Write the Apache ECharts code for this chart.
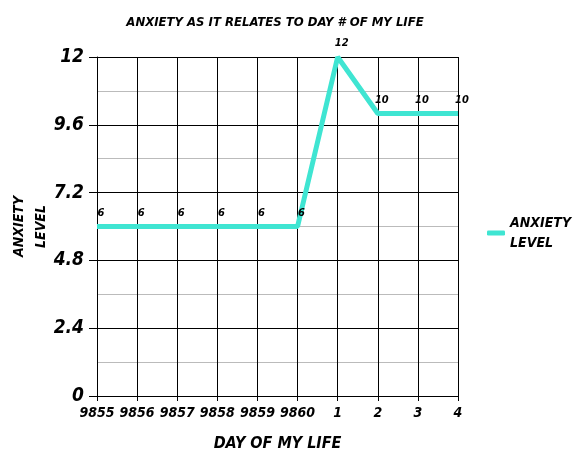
<!DOCTYPE html>
<html>
<head>
<meta charset="utf-8">
<script src="https://cdn.jsdelivr.net/npm/echarts@6/dist/echarts.min.js"></script>
<style>
  html, body { margin: 0; padding: 0; background: #fff; }
  #chart { width: 582px; height: 473px; }
</style>
</head>
<body>
<div id="chart"></div>
<script>
// 数据
const days = ['9855', '9856', '9857', '9858', '9859', '9860', '1', '2', '3', '4']
const anxietyLevel = [6, 6, 6, 6, 6, 6, 12, 10, 10, 10]
const seriesName = 'ANXIETY\nLEVEL'

const comicFont = '"DejaVu Sans Condensed", "DejaVu Sans", sans-serif'
const teal = '#3fe5d2'

const chart = echarts.init(document.getElementById('chart'))

chart.setOption({
  animation: false,
  title: {
    text: 'ANXIETY AS IT RELATES TO DAY # OF MY LIFE',
    left: 270,
    top: 11,
    textAlign: 'center',
    textStyle: {
      fontFamily: comicFont,
      fontSize: 13,
      fontWeight: 'bold',
      fontStyle: 'italic',
      color: '#000'
    }
  },
  legend: {
    orient: 'vertical',
    left: 482,
    top: 208,
    icon: 'roundRect',
    itemWidth: 18,
    itemHeight: 5,
    data: [seriesName],
    textStyle: {
      fontFamily: comicFont,
      fontSize: 14,
      fontWeight: 'bold',
      fontStyle: 'italic',
      color: '#000',
      lineHeight: 20
    }
  },
  grid: {
    left: 97,
    right: 124,
    top: 57,
    bottom: 77,
    outerBoundsMode: 'none'
  },
  xAxis: {
    type: 'category',
    data: days,
    boundaryGap: false,
    name: 'DAY OF MY LIFE',
    nameLocation: 'middle',
    nameGap: 40,
    nameMoveOverlap: false,
    nameTextStyle: {
      fontFamily: comicFont,
      fontSize: 16,
      fontWeight: 'bold',
      fontStyle: 'italic',
      color: '#000'
    },
    axisLine: { lineStyle: { color: '#000', width: 1 } },
    axisTick: { show: true, alignWithLabel: true, length: 5, lineStyle: { color: '#000' } },
    axisLabel: {
      fontFamily: comicFont,
      fontSize: 14,
      fontWeight: 'bold',
      fontStyle: 'italic',
      color: '#000',
      margin: 10,
      interval: 0
    },
    splitLine: { show: true, lineStyle: { color: '#000', width: 1 } }
  },
  yAxis: {
    type: 'value',
    min: 0,
    max: 12,
    interval: 2.4,
    name: 'ANXIETY\nLEVEL',
    nameLocation: 'middle',
    nameGap: 45,
    nameMoveOverlap: false,
    nameTextStyle: {
      fontFamily: comicFont,
      fontSize: 14,
      fontWeight: 'bold',
      fontStyle: 'italic',
      color: '#000',
      lineHeight: 22
    },
    axisLine: { show: true, lineStyle: { color: '#000', width: 1 } },
    axisTick: { show: true, length: 8, lineStyle: { color: '#000' } },
    axisLabel: {
      fontFamily: comicFont,
      fontSize: 19,
      fontWeight: 'bold',
      fontStyle: 'italic',
      color: '#000',
      margin: 13
    },
    splitLine: { show: true, lineStyle: { color: '#000', width: 1 } },
    minorTick: { show: false, splitNumber: 2 },
    minorSplitLine: { show: true, lineStyle: { color: '#bbbbbb', width: 1 } }
  },
  series: [
    {
      name: seriesName,
      type: 'line',
      data: anxietyLevel,
      symbol: 'circle',
      symbolSize: 0,
      showSymbol: true,
      lineStyle: { color: teal, width: 5 },
      itemStyle: { color: teal },
      label: {
        show: true,
        position: 'top',
        distance: 8,
        offset: [4, 0],
        fontFamily: comicFont,
        fontSize: 11,
        fontWeight: 'bold',
        fontStyle: 'italic',
        color: '#000'
      }
    }
  ]
})
</script>
</body>
</html>
